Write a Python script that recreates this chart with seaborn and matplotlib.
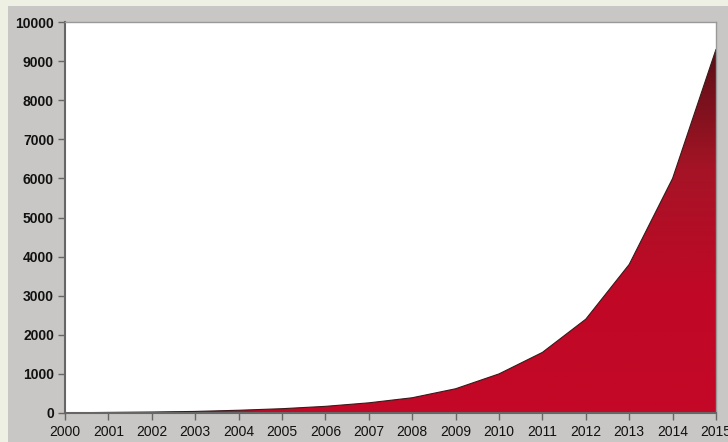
import numpy as np
import pandas as pd
import matplotlib
matplotlib.use("Agg")
import matplotlib.pyplot as plt
from matplotlib.colors import LinearSegmentedColormap
from matplotlib.patches import Rectangle
import seaborn as sns

years = [2000, 2001, 2002, 2003, 2004, 2005, 2006, 2007, 2008, 2009, 2010, 2011, 2012, 2013, 2014, 2015]
values = [5, 15, 25, 40, 70, 110, 170, 260, 390, 620, 1000, 1550, 2400, 3800, 6000, 9300]
yticks = [0, 1000, 2000, 3000, 4000, 5000, 6000, 7000, 8000, 9000, 10000]

sns.set_theme(style="white")
plt.rcParams['font.family'] = ['Liberation Sans', 'DejaVu Sans']

df = pd.DataFrame({"year": years, "value": values})

fig = plt.figure(figsize=(7.28, 4.42), dpi=100)
fig.patch.set_facecolor("#eef0e3")
fig.patches.append(Rectangle((8/728, 0), 1, 1 - 6/442, transform=fig.transFigure,
                             facecolor="#c9c7c5", edgecolor="none", zorder=-10))

ax = fig.add_axes([65/728, 1 - 413/442, (716 - 65)/728, (413 - 22)/442])
ax.set_facecolor("white")

ax.set_xlim(years[0], years[-1])
ax.set_ylim(yticks[0], yticks[-1])

# gradient-filled area
poly = ax.fill_between(df["year"], 0, df["value"], facecolor="none", edgecolor="none")
cmap = LinearSegmentedColormap.from_list("g", ["#c30826", "#c00826", "#a61426", "#5a0f16"])
grad = np.linspace(0, 1, 256).reshape(-1, 1)
im = ax.imshow(grad, cmap=cmap, origin="lower", aspect="auto",
               extent=[years[0], years[-1], 0, max(values)], zorder=1)
path = poly.get_paths()[0]
im.set_clip_path(path, transform=ax.transData)
sns.lineplot(data=df, x="year", y="value", ax=ax, color="#3a1a1a", linewidth=0.8, zorder=2)

ax.set_xlim(years[0], years[-1])
ax.set_ylim(yticks[0], yticks[-1])
ax.set_xticks(years)
ax.set_xticklabels([str(y) for y in years], fontsize=10, color="#111111")
ax.set_yticks(yticks)
ax.set_yticklabels([str(v) for v in yticks], fontsize=10, fontweight="bold", color="#111111")
ax.set_xlabel("")
ax.set_ylabel("")
ax.tick_params(axis="both", direction="out", length=5, width=1, color="#666666",
               bottom=True, left=True)
ax.tick_params(axis="x", pad=4)
ax.tick_params(axis="y", pad=3)

for s in ["left", "bottom"]:
    ax.spines[s].set_color("#666666")
    ax.spines[s].set_linewidth(1.5)
for s in ["top", "right"]:
    ax.spines[s].set_color("#999999")
    ax.spines[s].set_linewidth(1)
    ax.spines[s].set_visible(True)

fig.savefig("out.png", dpi=100, facecolor=fig.get_facecolor())
